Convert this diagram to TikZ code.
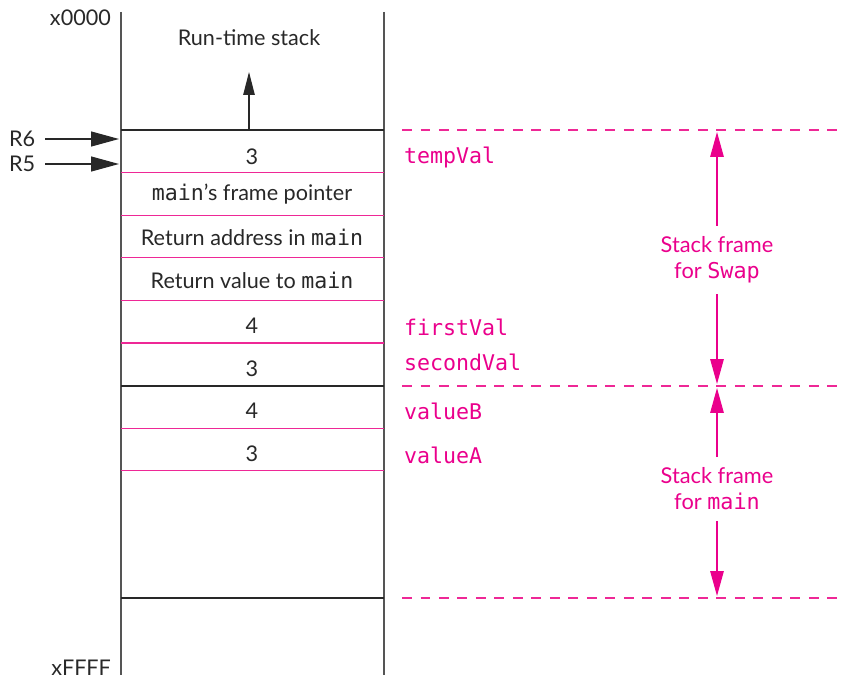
\documentclass[tikz,border=0pt]{standalone}
\usepackage{fontspec}
\setmainfont{Lato}
\setmonofont{DejaVu Sans Mono}
\usetikzlibrary{arrows.meta,positioning}
\definecolor{darktext}{RGB}{40,40,40}
\definecolor{linegray}{RGB}{85,85,85}
\definecolor{framepink}{RGB}{234,0,140}
\definecolor{linepink}{RGB}{238,40,150}

\begin{document}
\begin{tikzpicture}[x=0.02cm,y=-0.02cm,
  txt/.style={font=\fontsize{12.3}{15}\selectfont,text=darktext,inner sep=1pt},
  var/.style={font=\ttfamily\fontsize{12.3}{15}\selectfont,text=framepink,
              anchor=west,inner sep=1pt},
  framelbl/.style={font=\fontsize{12.4}{14.7}\selectfont,text=framepink,
                   align=center,inner xsep=2pt,inner ysep=6pt},
  edge/.style={draw=linegray,line width=1.1pt},
  rule/.style={draw=darktext,line width=0.7pt},
  pinkrule/.style={draw=linepink,line width=0.7pt},
  dashrule/.style={draw=linepink,line width=0.8pt,dash pattern=on 0.2cm off 0.17cm},
  regarrow/.style={-{Triangle[length=0.56cm,width=0.3cm]},line width=0.7pt,color=darktext},
  growarrow/.style={-{Triangle[length=0.46cm,width=0.23cm]},line width=0.6pt,color=darktext},
  framearrow/.style={-{Triangle[length=0.5cm,width=0.27cm]},line width=0.8pt,color=framepink}]
\useasboundingbox (0,0) rectangle (845,679);
% stack column
\coordinate (sl) at (121,12);  \coordinate (sr) at (384,12);
\draw[edge] (sl) -- (121,675);
\draw[edge] (sr) -- (384,675);
\draw[rule] (121,130) -- (384,130);
\foreach \y in {172.6,215.2,257.8,300.4,343,428.2,470.8}
  \draw[pinkrule] (121,\y) -- (384,\y);
\draw[rule] (121,386) -- (384,386);
\draw[rule] (121,598) -- (384,598);
% frame boundaries
\foreach \y in {130,386,598}
  \draw[dashrule] (402,\y) -- (845,\y);
% addresses and registers
\node[txt,anchor=east](lo) at (113,18)  {x0000};
\node[txt,anchor=east](hi) at (113,668) {xFFFF};
\node[txt,anchor=west](r6) at (7,139)   {R6};
\node[txt,anchor=west](r5) at (7,164)   {R5};
\coordinate (r6tip) at (119,139);
\coordinate (r5tip) at (119,164);
\draw[regarrow] (r6.east) ++(8,0) -- (r6tip);
\draw[regarrow] (r5.east) ++(8,0) -- (r5tip);
% growth
\node[txt](title) at (249,38) {Run-time stack};
\coordinate (growbase) at (249,130);
\coordinate (growtip)  at (249,72);
\draw[growarrow] (growbase) -- (growtip);
% cell contents
\node[txt](c1) at (252,157) {3};
\node[txt](c2) at (252,194) {\texttt{main}’s frame pointer};
\node[txt](c3) at (252,237) {Return address in \texttt{main}};
\node[txt](c4) at (252,280) {Return value to \texttt{main}};
\node[txt](c5) at (252,326) {4};
\node[txt](c6) at (252,369) {3};
\node[txt](c7) at (252,411) {4};
\node[txt](c8) at (252,454) {3};
% variable names
\node[var](v1) at (402,157) {tempVal};
\node[var](v2) at (402,327) {firstVal};
\node[var](v3) at (402,362) {secondVal};
\node[var](v4) at (402,411) {valueB};
\node[var](v5) at (402,455) {valueA};
% frame extents
\node[framelbl](swap) at (717,260) {Stack frame\\for \texttt{Swap}};
\node[framelbl](mainf) at (717,489) {Stack frame\\for \texttt{main}};
\coordinate (swaptop) at (717,132);
\coordinate (swapbot) at (717,384);
\coordinate (maintop) at (717,388);
\coordinate (mainbot) at (717,596);
\draw[framearrow] (swap) -- (swaptop);
\draw[framearrow] (swap) -- (swapbot);
\draw[framearrow] (mainf) -- (maintop);
\draw[framearrow] (mainf) -- (mainbot);
\end{tikzpicture}
\end{document}
